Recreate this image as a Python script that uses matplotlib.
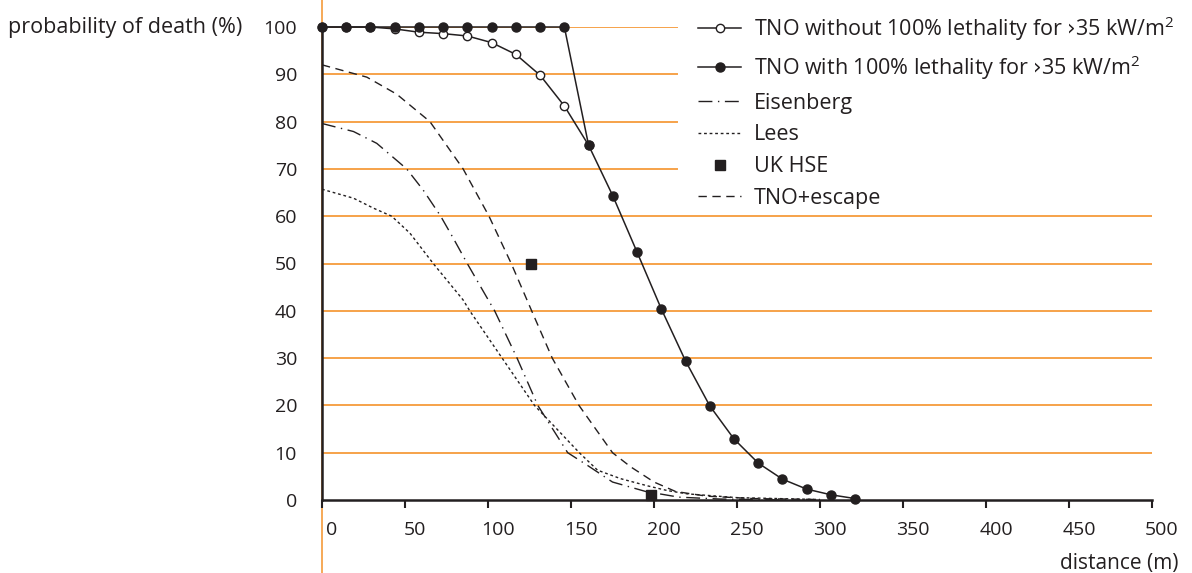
import matplotlib
matplotlib.use("Agg")
from matplotlib import pyplot as plt
from matplotlib.lines import Line2D
import matplotlib.transforms as mtransforms

plt.rcParams['font.family'] = ['Open Sans', 'DejaVu Sans']
plt.rcParams['mathtext.default'] = 'regular'

ORANGE = '#f6a24a'
INK = '#231f20'

# TNO curves (distance in m, probability in %)
tno_d = [0, 14.6, 29.2, 43.8, 58.4, 73, 87.6, 102.2, 116.8, 131.4, 146,
         160.6, 175.2, 189.8, 204.4, 219, 233.6, 248.2, 262.8, 277.4, 292, 306.6, 321.2]
tno_with = [100, 100, 100, 100, 100, 100, 100, 100, 100, 100, 100,
            75, 64.3, 52.4, 40.4, 29.4, 19.9, 12.9, 7.8, 4.4, 2.3, 1.1, 0.3]
tno_without_d = [0, 14.6, 29.2, 43.8, 58.4, 73, 87.6, 102.2, 116.8, 131.4, 146, 160.6]
tno_without = [100, 100, 100, 99.6, 98.9, 98.6, 98.1, 96.7, 94.2, 89.8, 83.3, 75]

eis_d = [0, 19, 33, 47, 51, 61, 71.5, 79, 87.5, 99, 104, 117.5, 130, 148, 160, 175, 195, 215, 240, 280]
eis_p = [79.6, 77.9, 75.4, 71.2, 70, 65.5, 60, 55.4, 50, 43, 40, 30, 20, 10, 7.3, 3.8, 1.8, 0.6, 0.2, 0]

lees_d = [0, 19, 31, 42, 53, 67, 85, 89, 108.5, 128, 155, 166, 180, 196, 208, 220, 250, 300]
lees_p = [65.7, 63.8, 61.7, 60, 56.4, 50, 42.3, 40, 30, 20, 10, 6.3, 4.5, 3, 2, 1.3, 0.5, 0.1]

esc_d = [0, 27, 45, 65, 85, 100.6, 114, 126.3, 138.7, 154.8, 175, 186, 200, 213, 232, 260, 300]
esc_p = [92, 89.4, 85.8, 80, 70, 60, 50, 40, 30, 20, 10, 7, 3.8, 1.8, 0.8, 0.3, 0.1]

hse_d = [126, 198]
hse_p = [50, 1]

xticks = [0, 50, 100, 150, 200, 250, 300, 350, 400, 450, 500]
yticks = [0, 10, 20, 30, 40, 50, 60, 70, 80, 90, 100]

W, H = 1192, 573
fig = plt.figure(figsize=(W / 100, H / 100), dpi=100)
ax = fig.add_axes([322 / W, (H - 500) / H, (1152 - 322) / W, (500 - 27) / H])
ax.set_xlim(0, 500)
ax.set_ylim(0, 100)

# orange vertical line through the whole figure
fig.add_artist(Line2D([322 / W, 322 / W], [0, 1], transform=fig.transFigure,
                      color=ORANGE, lw=1.3, zorder=0))

# gridlines (upper ones stop short of the legend)
for y in yticks[1:]:
    xmax = 0.428 if y >= 70 else 1.0
    ax.axhline(y, xmin=0, xmax=xmax, color=ORANGE, lw=1.4, zorder=1)

ax.plot(tno_without_d, tno_without, color=INK, lw=1.1, marker='o', ms=6,
        mfc='white', mec=INK, mew=1.0, clip_on=False, zorder=4,
        label='TNO without 100% lethality for ›35 kW/m$^2$')
ax.plot(tno_d, tno_with, color=INK, lw=1.1, marker='o', ms=6.5,
        mfc=INK, mec=INK, clip_on=False, zorder=5,
        label='TNO with 100% lethality for ›35 kW/m$^2$')
ax.plot(eis_d, eis_p, color=INK, lw=1.0, dashes=(10, 4, 1, 4), zorder=3,
        label='Eisenberg')
ax.plot(lees_d, lees_p, color=INK, lw=1.0, dashes=(2, 2), zorder=3,
        label='Lees')
ax.plot(hse_d, hse_p, ls='none', marker='s', ms=7, color=INK, zorder=6,
        clip_on=False, label='UK HSE')
ax.plot(esc_d, esc_p, color=INK, lw=1.0, dashes=(6, 4), zorder=3,
        label='TNO+escape')

for s in ['top', 'right']:
    ax.spines[s].set_visible(False)
ax.spines['left'].set_color(INK)
ax.spines['left'].set_linewidth(1.8)
ax.spines['bottom'].set_color(INK)
ax.spines['bottom'].set_linewidth(1.8)
ax.spines['left'].set_zorder(6)

ax.set_xticks(xticks)
ax.set_yticks(yticks)
ax.tick_params(axis='x', direction='out', length=6, width=1.5, color=INK,
               pad=9, labelsize=14, labelcolor=INK)
ax.tick_params(axis='y', length=0, pad=18, labelsize=14, labelcolor=INK)
offset = mtransforms.ScaledTranslation(10 / 100, 0, fig.dpi_scale_trans)
for lab in ax.get_xticklabels():
    lab.set_transform(lab.get_transform() + offset)

fig.text(8 / W, 1 - 28 / H, 'probability of death (%)', ha='left', va='center',
         fontsize=15.5, color=INK)
fig.text(1178 / W, 1 - 563 / H, 'distance (m)', ha='right', va='center',
         fontsize=15, color=INK)

fig.legend(loc='upper left', bbox_to_anchor=(698 / W, 1 - 14 / H),
           frameon=False, fontsize=15.5, handlelength=2.0, handletextpad=0.6,
           labelspacing=0.5, borderaxespad=0, borderpad=0,
           labelcolor=INK)

fig.savefig('out.png', dpi=100)
